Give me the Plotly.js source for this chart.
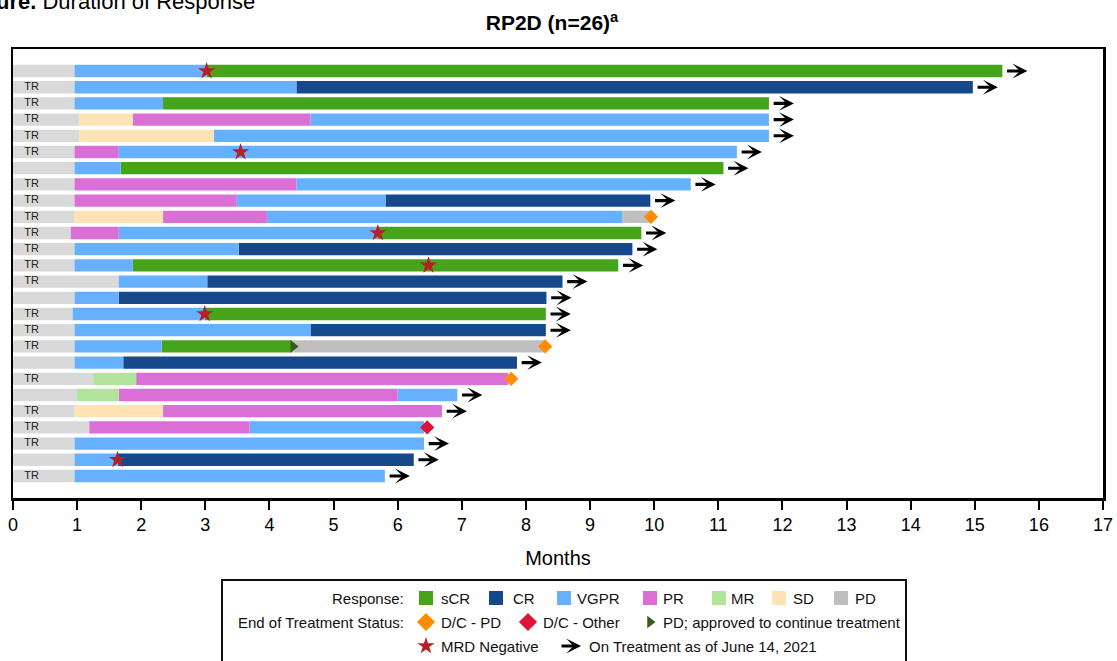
<!DOCTYPE html>
<html><head><meta charset="utf-8">
<script src="https://cdn.plot.ly/plotly-3.0.1.min.js"></script>
<style>html,body{margin:0;padding:0;background:#fff;overflow:hidden}#chart{width:1117px;height:661px}</style>
</head><body><div id="chart"></div>
<script>
// ---------- DATA ----------
const rowIds = [1,2,3,4,5,6,7,8,9,10,11,12,13,14,15,16,17,18,19,20,21,22,23,24,25,26];
const trFlags = [0,1,1,1,1,1,0,1,1,1,1,1,1,1,0,1,1,1,0,1,0,1,1,1,0,1];
const segCats = [
  ["Pre","VGPR","sCR"],
  ["Pre","VGPR","CR"],
  ["Pre","VGPR","sCR"],
  ["Pre","SD","PR","VGPR"],
  ["Pre","SD","VGPR"],
  ["Pre","PR","VGPR"],
  ["Pre","VGPR","sCR"],
  ["Pre","PR","VGPR"],
  ["Pre","PR","VGPR","CR"],
  ["Pre","SD","PR","VGPR","PD"],
  ["Pre","PR","VGPR","sCR"],
  ["Pre","VGPR","CR"],
  ["Pre","VGPR","sCR"],
  ["Pre","VGPR","CR"],
  ["Pre","VGPR","CR"],
  ["Pre","VGPR","sCR"],
  ["Pre","VGPR","CR"],
  ["Pre","VGPR","sCR","PD"],
  ["Pre","VGPR","CR"],
  ["Pre","MR","PR"],
  ["Pre","MR","PR","VGPR"],
  ["Pre","SD","PR"],
  ["Pre","PR","VGPR"],
  ["Pre","VGPR"],
  ["Pre","VGPR","CR"],
  ["Pre","VGPR"]
];
const segEnds = [
  [0.96,3.02,15.43],
  [0.96,4.42,14.97],
  [0.96,2.34,11.79],
  [1.03,1.87,4.64,11.79],
  [1.03,3.13,11.79],
  [0.96,1.65,11.29],
  [0.96,1.68,11.08],
  [0.96,4.42,10.57],
  [0.96,3.49,5.81,9.94],
  [0.96,2.34,3.96,9.50,9.93],
  [0.90,1.65,5.68,9.80],
  [0.96,3.52,9.66],
  [0.96,1.87,9.44],
  [1.65,3.03,8.57],
  [0.96,1.65,8.32],
  [0.93,2.99,8.31],
  [0.96,4.64,8.31],
  [0.96,2.32,4.35,8.29],
  [0.96,1.72,7.86],
  [1.25,1.92,7.72],
  [1.00,1.65,6.00,6.93],
  [0.96,2.34,6.69],
  [1.19,3.69,6.41],
  [0.96,6.41],
  [0.96,1.64,6.25],
  [0.96,5.80]
];
const onTreatmentRows = [1,2,3,4,5,6,7,8,9,11,12,13,14,15,16,17,19,21,22,24,25,26];
const mrdRows = [1,6,11,13,16,25];
const mrdMonths = [3.02,3.55,5.69,6.48,2.99,1.63];
const dcPdRows = [10,18,20];
const dcPdMonths = [9.95,8.30,7.77];
const dcOtherRows = [23];
const dcOtherMonths = [6.46];
const pdContRows = [18];
const pdContMonths = [4.37];
const responseCats = ["sCR","CR","VGPR","PR","MR","SD","PD"];
const xTicks = [0,1,2,3,4,5,6,7,8,9,10,11,12,13,14,15,16,17];

// ---------- STYLE ----------
const colors = {Pre:"#d9d9d9", sCR:"#45a419", CR:"#16488c", VGPR:"#66b1ff", PR:"#da70d6", MR:"#b2e49b", SD:"#ffe3b4", PD:"#bfbfbf"};
const FONT = "Arial, 'Liberation Sans', sans-serif";
const ARROW = {arrowhead:3, arrowsize:0.8, arrowwidth:3.1, arrowcolor:"#000", standoff:0};

const traces = [];
["Pre"].concat(responseCats).forEach(cat => {
  const y=[], x=[], base=[];
  rowIds.forEach((r,i) => {
    let start = 0;
    segCats[i].forEach((c,j) => {
      const end = segEnds[i][j];
      if (c === cat) { y.push(r); x.push(end-start); base.push(start); }
      start = end;
    });
  });
  traces.push({type:"bar", orientation:"h", x, y, base, width:0.76, name:cat,
    marker:{color:colors[cat], line:{width:0}}, xaxis:"x", yaxis:"y", hoverinfo:"skip", showlegend:false});
});

// TR labels
const trY = rowIds.filter((r,i)=>trFlags[i]);
traces.push({type:"scatter", mode:"text", x:trY.map(()=>0.29), y:trY, text:trY.map(()=>"TR"),
  textposition:"middle center", textfont:{family:FONT, size:11, color:"#222"}, hoverinfo:"skip", showlegend:false, cliponaxis:false});

// markers
traces.push({type:"scatter", mode:"markers", x:dcPdMonths, y:dcPdRows, marker:{symbol:"diamond", size:11, color:"#ff8c00"}, hoverinfo:"skip", showlegend:false});
traces.push({type:"scatter", mode:"markers", x:dcOtherMonths, y:dcOtherRows, marker:{symbol:"diamond", size:11, color:"#dc143c"}, hoverinfo:"skip", showlegend:false});
traces.push({type:"scatter", mode:"markers", x:pdContMonths, y:pdContRows, marker:{symbol:"triangle-right", size:11, color:"#3c5a1a"}, hoverinfo:"skip", showlegend:false});
traces.push({type:"scatter", mode:"markers", x:mrdMonths, y:mrdRows, marker:{symbol:"star", size:13, color:"#b41f28"}, hoverinfo:"skip", showlegend:false});

const annotations = [];
// arrows (on treatment)
onTreatmentRows.forEach(r => {
  const i = rowIds.indexOf(r);
  const end = segEnds[i][segEnds[i].length-1];
  annotations.push(Object.assign({x:end+0.39, y:r, ax:end+0.05, ay:r, xref:"x", yref:"y", axref:"x", ayref:"y",
    text:"", showarrow:true}, ARROW));
});

// ---------- LEGEND (drawn in helper axes measured in pixels) ----------
const legY = [598, 622, 646];
const sqX = [426, 496, 564, 650, 719, 779, 841];
const sqLabX = [441, 513, 577, 663, 731, 793, 855];
traces.push({type:"scatter", mode:"markers", x:sqX, y:sqX.map(()=>legY[0]), xaxis:"x2", yaxis:"y2",
  marker:{symbol:"square", size:14, color:responseCats.map(c=>colors[c])}, hoverinfo:"skip", showlegend:false});
traces.push({type:"scatter", mode:"markers", x:[426], y:[legY[1]], xaxis:"x2", yaxis:"y2", marker:{symbol:"diamond", size:14, color:"#ff8c00"}, hoverinfo:"skip", showlegend:false});
traces.push({type:"scatter", mode:"markers", x:[528], y:[legY[1]], xaxis:"x2", yaxis:"y2", marker:{symbol:"diamond", size:14, color:"#dc143c"}, hoverinfo:"skip", showlegend:false});
traces.push({type:"scatter", mode:"markers", x:[650], y:[legY[1]], xaxis:"x2", yaxis:"y2", marker:{symbol:"triangle-right", size:11, color:"#3c5a1a"}, hoverinfo:"skip", showlegend:false});
traces.push({type:"scatter", mode:"markers", x:[426], y:[legY[2]], xaxis:"x2", yaxis:"y2", marker:{symbol:"star", size:13, color:"#b41f28"}, hoverinfo:"skip", showlegend:false});

const legFont = {family:FONT, size:15, color:"#111"};
function legText(t, x, y, anchor){
  annotations.push({text:t, x, y, xref:"x2", yref:"y2", xanchor:anchor, yanchor:"middle", showarrow:false, font:legFont, borderpad:0});
}
legText("Response:", 405, legY[0], "right");
responseCats.forEach((c,i)=>legText(c, sqLabX[i]-1, legY[0], "left"));
legText("End of Treatment Status:", 405, legY[1], "right");
legText("D/C - PD", 440, legY[1], "left");
legText("D/C - Other", 542, legY[1], "left");
legText("PD; approved to continue treatment", 662, legY[1], "left");
legText("MRD Negative", 440, legY[2], "left");
legText("On Treatment as of June 14, 2021", 588, legY[2], "left");
annotations.push(Object.assign({x:581, y:legY[2], ax:560, ay:legY[2], xref:"x2", yref:"y2", axref:"x2", ayref:"y2",
  text:"", showarrow:true}, ARROW));

// header text cut off at the left edge
annotations.push({text:"<b>Figure.</b> Duration of Response", xref:"paper", yref:"paper", x:(-39-13)/1090, y:(661-1.5)/612,
  xanchor:"left", yanchor:"middle", showarrow:false, font:{family:FONT, size:22, color:"#000"}});

const shapes = [{type:"rect", xref:"x2", yref:"y2", x0:222, x1:906, y0:580, y1:675, line:{color:"#111", width:2}, fillcolor:"rgba(0,0,0,0)"}];

const mainBottom = 163/612;
const layout = {
  width:1117, height:661,
  margin:{l:13, r:14, t:49, b:0},
  paper_bgcolor:"#fff", plot_bgcolor:"#fff",
  barmode:"overlay",
  font:{family:FONT, color:"#000"},
  title:{text:"<b>RP2D (n=26)<sup>a</sup></b>", font:{family:FONT, size:21, color:"#000"},
    xref:"container", yref:"container", x:552/1117, y:1-23/661, xanchor:"center", yanchor:"middle"},
  xaxis:{range:[0,17], tickvals:xTicks, ticktext:xTicks.map(String), ticks:"outside", ticklen:9, tickwidth:2, tickcolor:"#000",
    showline:true, linewidth:2.5, linecolor:"#000", mirror:true, showgrid:false, zeroline:false,
    tickfont:{family:FONT, size:18, color:"#000"}, anchor:"y",
    title:{text:"Months", font:{family:FONT, size:20, color:"#000"}, standoff:17}, fixedrange:true},
  yaxis:{domain:[mainBottom,1], range:[26+1.36, 1-1.36], showticklabels:false, ticks:"", showgrid:false, zeroline:false,
    showline:true, linewidth:2.5, linecolor:"#000", mirror:true, anchor:"x", fixedrange:true},
  xaxis2:{domain:[0,1], range:[13,1103], visible:false, anchor:"y2", fixedrange:true},
  yaxis2:{domain:[0,mainBottom], range:[661,498], visible:false, anchor:"x2", fixedrange:true},
  annotations, shapes, showlegend:false
};
Plotly.newPlot("chart", traces, layout, {displayModeBar:false, staticPlot:true});
</script></body></html>
